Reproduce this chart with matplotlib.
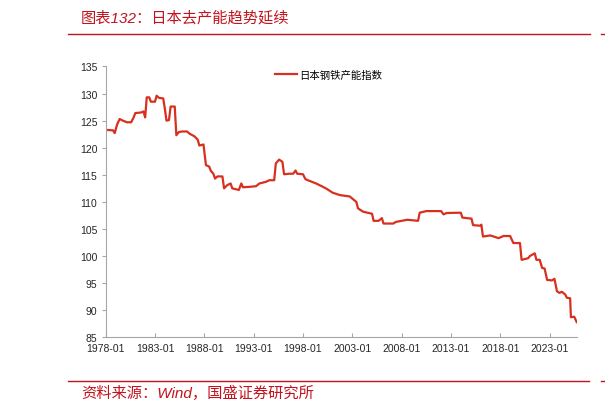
import matplotlib
matplotlib.use("Agg")
import matplotlib.pyplot as plt
import matplotlib.dates as mdates
import pandas as pd

# 日本钢铁产能指数
fechas = ["1978-01", "1978-10", "1978-12", "1979-03", "1979-06", "1979-10",
          "1980-03", "1980-08", "1980-11", "1981-01", "1981-08", "1981-11",
          "1982-01", "1982-03", "1982-06", "1982-08", "1983-01", "1983-03",
          "1983-06", "1983-11", "1984-01", "1984-03", "1984-06", "1984-08",
          "1985-01", "1985-03", "1985-06", "1985-10", "1986-04", "1986-07",
          "1987-01", "1987-05", "1987-07", "1987-12", "1988-03", "1988-07",
          "1988-09", "1988-12", "1989-02", "1989-05", "1989-11", "1990-01",
          "1990-05", "1990-09", "1990-11", "1991-07", "1991-10", "1991-12",
          "1992-10", "1993-04", "1993-08", "1994-04", "1994-08", "1995-02",
          "1995-04", "1995-08", "1995-12", "1996-02", "1996-08", "1997-01",
          "1997-04", "1997-06", "1998-01", "1998-04", "1998-07", "1999-05",
          "2000-01", "2000-06", "2001-01", "2001-10", "2002-10", "2003-01",
          "2003-06", "2003-08", "2004-02", "2005-01", "2005-03", "2005-09",
          "2006-01", "2006-03", "2007-03", "2007-06", "2008-01", "2008-08",
          "2009-09", "2009-11", "2010-07", "2012-01", "2012-04", "2012-08",
          "2014-01", "2014-03", "2015-02", "2015-04", "2016-01", "2016-02",
          "2016-04", "2017-01", "2017-11", "2018-05", "2019-01", "2019-05",
          "2020-01", "2020-03", "2020-11", "2021-01", "2021-07", "2021-09",
          "2022-01", "2022-04", "2022-07", "2022-10", "2023-04", "2023-07",
          "2023-10", "2024-01", "2024-04", "2024-08", "2024-10", "2025-02",
          "2025-03", "2025-07", "2025-10"]
indice = [123.3, 123.2, 122.7, 124.3, 125.3, 125.0,
          124.7, 124.7, 125.6, 126.4, 126.5, 126.7,
          125.6, 129.3, 129.3, 128.5, 128.5, 129.6,
          129.2, 129.1, 127.2, 125.0, 125.1, 127.6,
          127.6, 122.3, 122.9, 123.0, 123.0, 122.6,
          122.1, 121.5, 120.4, 120.6, 116.8, 116.5,
          115.7, 115.2, 114.3, 114.7, 114.7, 112.5,
          113.1, 113.4, 112.5, 112.2, 113.4, 112.7,
          112.8, 112.9, 113.4, 113.7, 114.0, 114.0,
          117.1, 117.8, 117.4, 115.1, 115.2, 115.2,
          115.8, 115.2, 115.1, 114.2, 114.0, 113.4,
          112.8, 112.4, 111.7, 111.25, 111.0, 110.6,
          110.0, 108.8, 108.2, 107.8, 106.5, 106.5,
          107.0, 106.0, 106.0, 106.3, 106.5, 106.7,
          106.5, 108.0, 108.3, 108.3, 107.7, 107.95,
          108.0, 107.1, 106.9, 105.7, 105.6, 105.8,
          103.6, 103.8, 103.3, 103.7, 103.7, 102.4,
          102.4, 99.3, 99.6, 100.0, 100.5, 99.3,
          99.3, 97.8, 97.7, 95.6, 95.5, 95.8,
          93.5, 93.2, 93.4, 92.9, 92.3, 92.2,
          88.7, 88.8, 87.8]

ticks_x = ["1978-01", "1983-01", "1988-01", "1993-01", "1998-01",
           "2003-01", "2008-01", "2013-01", "2018-01", "2023-01"]
ticks_y = [85, 90, 95, 100, 105, 110, 115, 120, 125, 130, 135]

titulo = "图表132：日本去产能趋势延续"
fuente = "资料来源：Wind，国盛证券研究所"
leyenda = "日本钢铁产能指数"

rojo = "#C0141E"
gris = "#A6A6A6"

fechas = pd.to_datetime(fechas, format="%Y-%m")
ticks_x = pd.to_datetime(ticks_x, format="%Y-%m")

fig = plt.figure(figsize=(6.05, 4.14), dpi=100)
ax = fig.add_axes([0.1747, 0.1829, 0.9532 - 0.1747, 0.837 - 0.1829])

ax.plot(fechas, indice, color="#D7301F", lw=1.6, label=leyenda)

ax.set_xlim(fechas[0], fechas[-1])
ax.set_ylim(85, 135)
ax.set_xticks(ticks_x)
ax.xaxis.set_major_formatter(mdates.DateFormatter("%Y-%m"))
ax.set_yticks(ticks_y)

for s in ["top", "right"]:
    ax.spines[s].set_visible(False)
for s in ["left", "bottom"]:
    ax.spines[s].set_color(gris)
    ax.spines[s].set_linewidth(0.8)

ax.tick_params(axis="y", direction="out", length=3, color=gris, width=0.8,
               labelsize=7.5, labelcolor="#262626", pad=3)
ax.tick_params(axis="x", direction="in", length=3, color=gris, width=0.8,
               labelsize=7.5, labelcolor="#262626", pad=4)
for lab in ax.get_xticklabels() + ax.get_yticklabels():
    lab.set_family(["Liberation Sans", "DejaVu Sans"])

leg = ax.legend(loc="center left", bbox_to_anchor=(0.351, 0.9697), frameon=False,
                borderaxespad=0, handlelength=2.1, handletextpad=0.25,
                prop={"family": ["Noto Sans CJK SC", "DejaVu Sans"], "size": 7.5})

# cabecera y pie
fig.text(80.5 / 605, 1 - 18.5 / 414, titulo, color=rojo, fontsize=11, style="italic",
         family=["Liberation Sans", "Noto Sans CJK SC"], va="center", ha="left")
fig.add_artist(plt.Line2D([68 / 605, 590 / 605], [1 - 35 / 414] * 2, color=rojo, lw=1))
fig.add_artist(plt.Line2D([601 / 605, 1.0], [1 - 35 / 414] * 2, color=rojo, lw=1))

fig.add_artist(plt.Line2D([68 / 605, 589 / 605], [1 - 382 / 414] * 2, color=rojo, lw=1))
fig.add_artist(plt.Line2D([601 / 605, 1.0], [1 - 382 / 414] * 2, color=rojo, lw=1))
fig.text(81.5 / 605, 1 - 393 / 414, fuente, color=rojo, fontsize=11, style="italic",
         family=["Liberation Sans", "Noto Sans CJK SC"], va="center", ha="left")

fig.savefig("out.png", dpi=100)
